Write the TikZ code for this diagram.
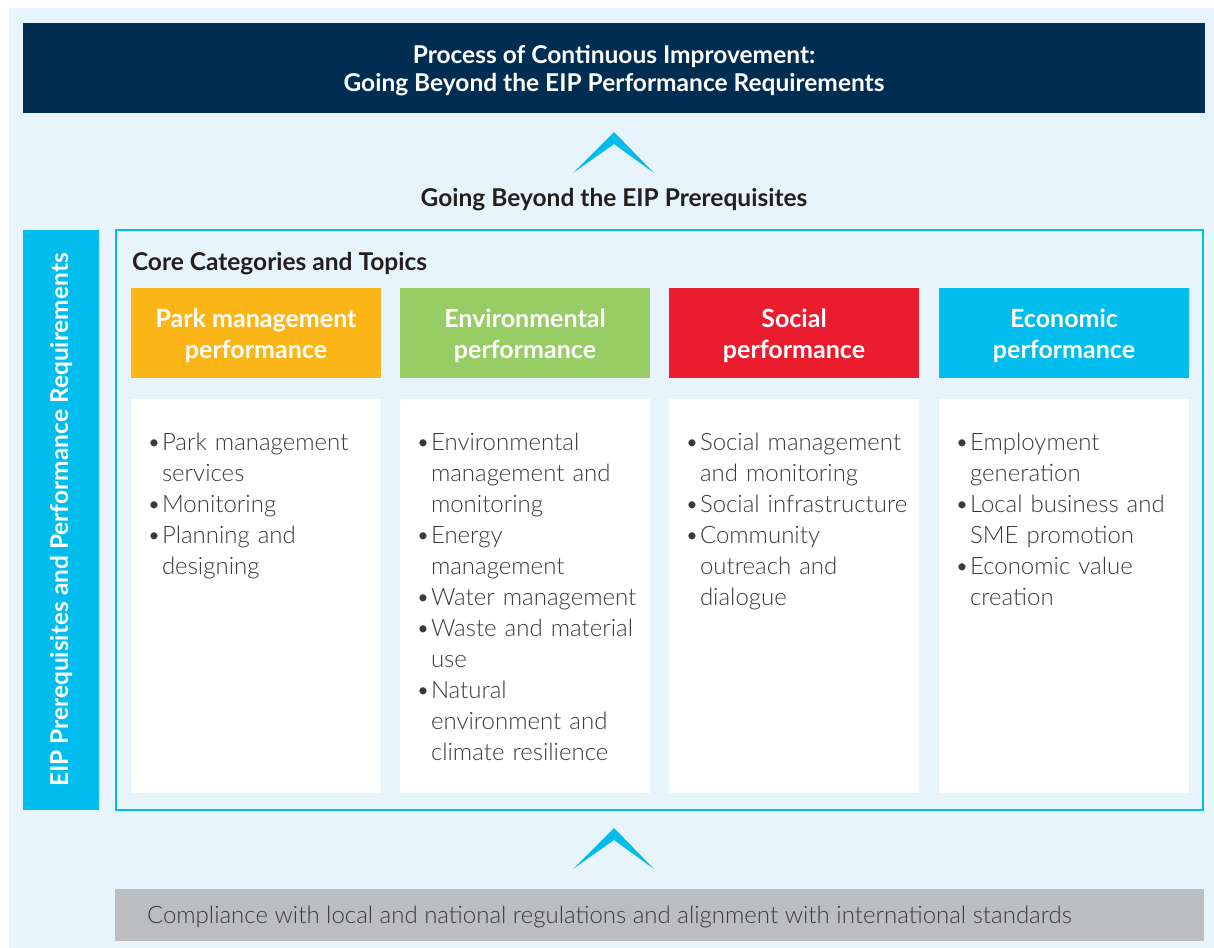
\documentclass[tikz,border=0pt]{standalone}
\usepackage{fontspec}
\setmainfont{Lato}
\newfontfamily\lightfont{Lato Light}
\usepackage{tikz}
\usetikzlibrary{calc,positioning}

\definecolor{eipBack}{HTML}{E7F4FB}
\definecolor{eipNavy}{HTML}{002D52}
\definecolor{eipCyan}{HTML}{00BDEE}
\definecolor{eipOrange}{HTML}{FBB517}
\definecolor{eipGreen}{HTML}{98CC64}
\definecolor{eipRed}{HTML}{EB1C2D}
\definecolor{eipGrey}{HTML}{BCBDC0}
\definecolor{eipInk}{HTML}{231F20}
\definecolor{eipBody}{HTML}{3A3A3A}

% bullet item with hanging indent
\newcommand{\bitem}[1]{\par\hangindent=15bp\hangafter=1\noindent\makebox[15bp][l]{\textbullet}\begingroup\let\\\newline #1\endgroup}

\begin{document}
\begin{tikzpicture}[x=1bp,y=-1bp,
  plain/.style={inner sep=0pt,outer sep=0pt},
  boldtext/.style={font=\fontsize{24.5bp}{28bp}\selectfont\bfseries},
  headtext/.style={font=\fontsize{25bp}{31bp}\selectfont\bfseries,text=white,align=center},
  bodytext/.style={font=\lightfont\fontsize{24bp}{31bp}\selectfont,text=eipBody}]

  \useasboundingbox (0,0) rectangle (1214,948);

  % Background
  \path (9,8) node[plain,anchor=north west,fill=eipBack,minimum width=1205bp,minimum height=940bp] (back) {};

  % Title
  \path (back.north west) +(14,15) node[plain,anchor=north west,fill=eipNavy,minimum width=1182bp,minimum height=90bp] (title) {};
  \path (title.center) +(0,3) node[plain,boldtext,text=white,align=center] (title-label) {Process of Continuous Improvement:\\Going Beyond the EIP Performance Requirements};

  % Upper chevron
  \coordinate (top-tip) at ($(title.south)+(0,19)$);
  \fill[eipCyan] (top-tip) -- +(40,41) -- +(0,12) -- +(-41,41) -- cycle;
  \path (title.south) +(0,87) node[boldtext,text=eipInk] (beyond) {Going Beyond the EIP Prerequisites};

  % Side bar
  \path (back.north west) +(14,222) node[plain,anchor=north west,fill=eipCyan,minimum width=76bp,minimum height=580bp] (side) {};
  \node[rotate=90,boldtext,text=white] (side-label) at (side.center) {EIP Prerequisites and Performance Requirements};

  % Core frame
  \path (side.north east) +(17,0) node[plain,anchor=north west,draw=eipCyan,line width=1.5bp,fill=eipBack,minimum width=1087bp,minimum height=580bp] (core) {};
  \path (core.north west) +(16,34) node[plain,anchor=west,boldtext,text=eipInk] (core-label) {Core Categories and Topics};

  % Categories
  % \category{<id>}{<pos>}{<colour>}{<title>}{<items>}
  \DeclareDocumentCommand \category { m m m m m }{%
    \path #2 node[plain,anchor=north west,fill=#3,minimum width=250bp,minimum height=90bp] (#1-head) {};
    \path (#1-head.center) +(0,3) node[plain,headtext] (#1-label) {#4};
    \path (#1-head.south west) +(0,21) node[plain,anchor=north west,fill=white,minimum width=250bp,minimum height=394bp] (#1-body) {};
    \path (#1-body.north west) +(16,20) node[plain,anchor=north west,text width=235bp,align=left,bodytext] (#1-text) {#5\par};
  }
  \category{park}{($(core.north west)+(15,58)$)}{eipOrange}{Park management\\performance}
    {\bitem{Park management\\services}\bitem{Monitoring}\bitem{Planning and\\designing}}
  \category{env}{($(park-head.north east)+(19,0)$)}{eipGreen}{Environmental\\performance}
    {\bitem{Environmental\\management and\\monitoring}\bitem{Energy\\management}\bitem{Water management}\bitem{Waste and material\\use}\bitem{Natural\\environment and\\climate resilience}}
  \category{soc}{($(env-head.north east)+(19,0)$)}{eipRed}{Social\\performance}
    {\bitem{Social management\\and monitoring}\bitem{Social infrastructure}\bitem{Community\\outreach and\\dialogue}}
  \category{eco}{($(soc-head.north east)+(20,0)$)}{eipCyan}{Economic\\performance}
    {\bitem{Employment\\generation}\bitem{Local business and\\SME promotion}\bitem{Economic value\\creation}}

  % Lower chevron
  \coordinate (low-tip) at ($(core.south -| title.south)+(0,18)$);
  \fill[eipCyan] (low-tip) -- +(40,41) -- +(0,12) -- +(-41,41) -- cycle;

  % Compliance
  \path (core.south west) +(-1,79) node[plain,anchor=north west,fill=eipGrey,minimum width=1089bp,minimum height=52bp] (comply) {};
  \path (comply.west) +(32,2) node[plain,anchor=west,bodytext] (comply-label) {Compliance with local and national regulations and alignment with international standards};

\end{tikzpicture}
\end{document}
